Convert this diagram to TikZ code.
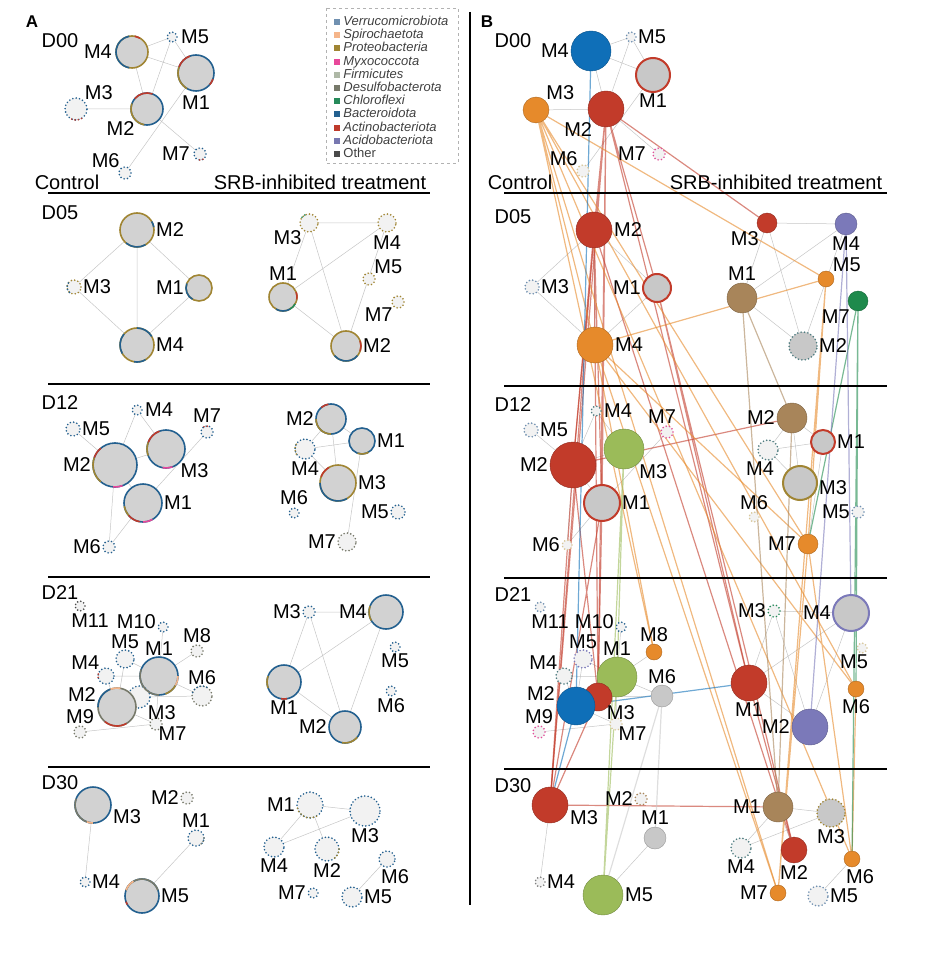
\documentclass[tikz,border=0pt]{standalone}
\usepackage{fontspec}
\setmainfont{Liberation Sans}
\usepackage{tikz}
\usetikzlibrary{positioning,backgrounds}

\definecolor{verr}{HTML}{7090B0}
\definecolor{spir}{HTML}{F5B58A}
\definecolor{prot}{HTML}{A08533}
\definecolor{myxo}{HTML}{E8489A}
\definecolor{firm}{HTML}{AEB8A6}
\definecolor{desu}{HTML}{77796A}
\definecolor{chlo}{HTML}{268A5A}
\definecolor{bact}{HTML}{23608F}
\definecolor{acti}{HTML}{BF3A2B}
\definecolor{acid}{HTML}{7777B0}
\definecolor{othr}{HTML}{4A4A4A}
\definecolor{agray}{HTML}{D2D2D2}
\definecolor{bred}{HTML}{C23B2A}
\definecolor{borg}{HTML}{E68A2B}
\definecolor{bblu}{HTML}{0F6FB8}
\definecolor{bgrn}{HTML}{9BBB59}
\definecolor{bbrn}{HTML}{A8855A}
\definecolor{bpur}{HTML}{7B79B9}
\definecolor{bdgr}{HTML}{1E8A4C}
\definecolor{bgry}{HTML}{C8C8C8}
\definecolor{bbei}{HTML}{D8C79A}
\definecolor{bpnk}{HTML}{E0509A}
\definecolor{bteal}{HTML}{4F7C80}

\tikzset{
  module/.style={circle, inner sep=0pt, outer sep=0pt, minimum size=#1},
  amod/.style={fill=agray, draw=#1, line width=1.6pt},
  dmod/.style={fill=gray!10, draw=#1, line width=1.8pt, dash pattern=on 0pt off 3.4pt, line cap=round},
  bmod/.style={fill=#1, draw=#1!75!black, line width=0.4pt},
  rmod/.style={fill=bgry, draw=#1, line width=2pt},
  ring/.style={draw=#1, line width=1.6pt},
  dring/.style={draw=#1, line width=1.8pt, dash pattern=on 0pt off 3.4pt, line cap=round},
  lbl/.style={font=\fontsize{20}{20}\selectfont, inner sep=1pt},
  netedge/.style={draw=gray!45, line width=0.5pt},
  tr/.style={draw=#1, line width=1.2pt, draw opacity=0.6},
  sep/.style={line width=1.2pt},
  legsq/.style={rectangle, inner sep=0pt, minimum size=6pt},
  legtxt/.style={font=\fontsize{13}{13}\selectfont\itshape, text=black!75, inner sep=0pt, text height=9.5pt, text depth=2.5pt},
}

% coloured piece of a module ring
\newcommand{\rseg}[5]{\draw[#5] ([shift={(#3:#2)}]#1.center) arc[start angle=#3, end angle=#4, radius=#2];}

\begin{document}
\begin{tikzpicture}[x=1pt, y=-1pt]
    \useasboundingbox (0,0) rectangle (924,957);

    % ---------------- panel A ----------------
    \node[font=\fontsize{17}{17}\selectfont\bfseries] (pa) at (32,22) {A};
    \node[lbl] (ad00) at (60,41) {D00};
    \node[lbl] (actrl) at (67,182) {Control};
    \node[lbl] (atrt) at (320,182) {SRB-inhibited treatment};
    \draw[sep] (48,193) -- (430,193);
    \draw[sep] (48,384) -- (430,384);
    \draw[sep] (48,577) -- (430,577);
    \draw[sep] (48,767) -- (430,767);
    \draw[sep] (470,12) -- (470,905);

    % D00
    \node[module=32pt, amod=prot] (ac00m4) at (132,52) {};
    \node[module=10pt, dmod=bact] (ac00m5) at (172,37) {};
    \node[module=36pt, amod=bact] (ac00m1) at (196,73) {};
    \node[module=22pt, dmod=bact] (ac00m3) at (76,109) {};
    \node[module=32pt, amod=bact] (ac00m2) at (147,109) {};
    \node[module=12pt, dmod=bact] (ac00m6) at (125,173) {};
    \node[module=12pt, dmod=bact] (ac00m7) at (200,154) {};
    \rseg{ac00m4}{16}{100}{260}{ring=bact}
    \rseg{ac00m4}{16}{280}{300}{ring=acti}
    \rseg{ac00m1}{18}{120}{200}{ring=prot}
    \rseg{ac00m1}{18}{200}{250}{ring=acti}
    \rseg{ac00m1}{18}{20}{40}{ring=acti}
    \rseg{ac00m3}{11}{60}{130}{dring=acti}
    \rseg{ac00m2}{16}{100}{200}{ring=prot}
    \rseg{ac00m2}{16}{220}{290}{ring=acti}
    \rseg{ac00m7}{6}{60}{120}{dring=acti}
    \node[lbl, left=3pt of ac00m4] (lac00m4) {M4};
    \node[lbl, right=3pt of ac00m5] (lac00m5) {M5};
    \node[lbl, below=4pt of ac00m1] (lac00m1) {M1};
    \node[lbl, above right=0pt of ac00m3] (lac00m3) {M3};
    \node[lbl, below left=0pt of ac00m2] (lac00m2) {M2};
    \node[lbl, above left=0pt of ac00m6] (lac00m6) {M6};
    \node[lbl, left=3pt of ac00m7] (lac00m7) {M7};

    % D05
    \node[lbl] (ad05) at (60,213) {D05};
    \node[module=34pt, amod=prot] (ac05m2) at (137,230) {};
    \node[module=14pt, dmod=prot] (ac05m3) at (74,287) {};
    \node[module=26pt, amod=prot] (ac05m1) at (199,288) {};
    \node[module=34pt, amod=prot] (ac05m4) at (137,345) {};
    \rseg{ac05m2}{17}{60}{130}{ring=bact}
    \rseg{ac05m2}{17}{330}{350}{ring=bact}
    \rseg{ac05m3}{7}{130}{230}{dring=bact}
    \rseg{ac05m1}{13}{120}{200}{ring=bact}
    \rseg{ac05m4}{17}{150}{220}{ring=bact}
    \rseg{ac05m4}{17}{270}{330}{ring=bact}
    \rseg{ac05m4}{17}{60}{100}{ring=bact}
    \node[lbl, right=1pt of ac05m2] (lac05m2) {M2};
    \node[lbl, right=1pt of ac05m3] (lac05m3) {M3};
    \node[lbl, left=1pt of ac05m1] (lac05m1) {M1};
    \node[lbl, right=1pt of ac05m4] (lac05m4) {M4};

    \node[module=18pt, dmod=prot] (at05m3) at (309,223) {};
    \node[module=18pt, dmod=prot] (at05m4) at (387,223) {};
    \node[module=12pt, dmod=prot] (at05m5) at (369,279) {};
    \node[module=12pt, dmod=prot] (at05m7) at (398,302) {};
    \node[module=28pt, amod=prot] (at05m1) at (283,297) {};
    \node[module=30pt, amod=prot] (at05m2) at (346,346) {};
    \rseg{at05m3}{9}{220}{260}{dring=chlo}
    \rseg{at05m1}{14}{60}{120}{ring=bact}
    \rseg{at05m1}{14}{30}{60}{ring=chlo}
    \rseg{at05m1}{14}{340}{370}{ring=acti}
    \rseg{at05m2}{15}{40}{140}{ring=bact}
    \rseg{at05m2}{15}{340}{380}{ring=acti}
    \node[lbl, below left=0pt of at05m3] (lat05m3) {M3};
    \node[lbl, below=3pt of at05m4] (lat05m4) {M4};
    \node[lbl, above right=0pt of at05m5] (lat05m5) {M5};
    \node[lbl, below left=0pt of at05m7] (lat05m7) {M7};
    \node[lbl, above=1pt of at05m1] (lat05m1) {M1};
    \node[lbl, right=1pt of at05m2] (lat05m2) {M2};

    % D12
    \node[lbl] (ad12) at (60,403) {D12};
    \node[module=14pt, dmod=bact] (ac12m5) at (73,429) {};
    \node[module=10pt, dmod=bact] (ac12m4) at (137,410) {};
    \node[module=12pt, dmod=bact] (ac12m7) at (207,432) {};
    \node[module=44pt, amod=bact] (ac12m2) at (115,465) {};
    \node[module=38pt, amod=bact] (ac12m3) at (166,449) {};
    \node[module=38pt, amod=bact] (ac12m1) at (143,503) {};
    \node[module=12pt, dmod=bact] (ac12m6) at (109,547) {};
    \rseg{ac12m7}{6}{240}{280}{dring=acti}
    \rseg{ac12m2}{22}{130}{200}{ring=prot}
    \rseg{ac12m2}{22}{200}{230}{ring=acti}
    \rseg{ac12m2}{22}{70}{95}{ring=myxo}
    \rseg{ac12m3}{19}{200}{250}{ring=acti}
    \rseg{ac12m3}{19}{160}{200}{ring=prot}
    \rseg{ac12m3}{19}{70}{100}{ring=myxo}
    \rseg{ac12m1}{19}{100}{140}{ring=acti}
    \rseg{ac12m1}{19}{60}{90}{ring=myxo}
    \rseg{ac12m1}{19}{140}{170}{ring=prot}
    \node[lbl, right=1pt of ac12m5] (lac12m5) {M5};
    \node[lbl, right=2pt of ac12m4] (lac12m4) {M4};
    \node[lbl, above=2pt of ac12m7] (lac12m7) {M7};
    \node[lbl, left=1pt of ac12m2] (lac12m2) {M2};
    \node[lbl, below right=0pt of ac12m3] (lac12m3) {M3};
    \node[lbl, right=1pt of ac12m1] (lac12m1) {M1};
    \node[lbl, left=1pt of ac12m6] (lac12m6) {M6};

    \node[module=30pt, amod=bact] (at12m2) at (331,419) {};
    \node[module=26pt, amod=bact] (at12m1) at (362,441) {};
    \node[module=20pt, dmod=bact] (at12m4) at (305,449) {};
    \node[module=36pt, amod=prot] (at12m3) at (338,483) {};
    \node[module=10pt, dmod=bact] (at12m6) at (294,513) {};
    \node[module=14pt, dmod=bact] (at12m5) at (398,512) {};
    \node[module=18pt, dmod=desu] (at12m7) at (347,542) {};
    \rseg{at12m2}{15}{90}{180}{ring=prot}
    \rseg{at12m2}{15}{230}{260}{ring=acti}
    \rseg{at12m1}{13}{60}{110}{ring=prot}
    \rseg{at12m4}{10}{150}{220}{dring=prot}
    \rseg{at12m3}{18}{60}{180}{ring=bact}
    \rseg{at12m3}{18}{200}{240}{ring=acti}
    \node[lbl, left=1pt of at12m2] (lat12m2) {M2};
    \node[lbl, right=1pt of at12m1] (lat12m1) {M1};
    \node[lbl, below=2pt of at12m4] (lat12m4) {M4};
    \node[lbl, right=1pt of at12m3] (lat12m3) {M3};
    \node[lbl, above=2pt of at12m6] (lat12m6) {M6};
    \node[lbl, left=1pt of at12m5] (lat12m5) {M5};
    \node[lbl, left=1pt of at12m7] (lat12m7) {M7};

    % D21
    \node[lbl] (ad21) at (60,593) {D21};
    \node[module=10pt, dmod=othr] (ac21m11) at (80,606) {};
    \node[module=10pt, dmod=bact] (ac21m10) at (163,627) {};
    \node[module=12pt, dmod=desu] (ac21m8) at (197,651) {};
    \node[module=18pt, dmod=bact] (ac21m5) at (125,659) {};
    \node[module=38pt, amod=bact] (ac21m1) at (159,676) {};
    \node[module=16pt, dmod=bact] (ac21m4) at (106,676) {};
    \node[module=20pt, dmod=desu] (ac21m6) at (202,696) {};
    \node[module=22pt, dmod=bact] (ac21m3) at (139,697) {};
    \node[module=38pt, amod=desu] (ac21m2) at (117,707) {};
    \node[module=12pt, dmod=desu] (ac21m9) at (80,732) {};
    \node[module=12pt, dmod=desu] (ac21m7) at (156,724) {};
    \rseg{ac21m1}{19}{90}{200}{ring=desu}
    \rseg{ac21m1}{19}{30}{70}{ring=prot}
    \rseg{ac21m1}{19}{0}{30}{ring=spir}
    \rseg{ac21m4}{8}{170}{210}{dring=acti}
    \rseg{ac21m6}{10}{200}{300}{dring=bact}
    \rseg{ac21m2}{19}{60}{130}{ring=acti}
    \rseg{ac21m2}{19}{180}{250}{ring=bact}
    \rseg{ac21m2}{19}{250}{280}{ring=spir}
    \node[lbl, below=2pt of ac21m11, xshift=10pt] (lac21m11) {M11};
    \node[lbl, left=1pt of ac21m10, yshift=5pt] (lac21m10) {M10};
    \node[lbl, above=1pt of ac21m8] (lac21m8) {M8};
    \node[lbl, above=0pt of ac21m5] (lac21m5) {M5};
    \node[lbl, above=0pt of ac21m1] (lac21m1) {M1};
    \node[lbl, above left=0pt of ac21m4] (lac21m4) {M4};
    \node[lbl, above=0pt of ac21m6] (lac21m6) {M6};
    \node[lbl, below right=0pt of ac21m3] (lac21m3) {M3};
    \node[lbl, left=1pt of ac21m2, yshift=12pt] (lac21m2) {M2};
    \node[lbl, above=1pt of ac21m9] (lac21m9) {M9};
    \node[lbl, below right=-4pt of ac21m7] (lac21m7) {M7};

    \node[module=12pt, dmod=bact] (at21m3) at (309,612) {};
    \node[module=34pt, amod=bact] (at21m4) at (386,612) {};
    \node[module=10pt, dmod=bact] (at21m5) at (395,647) {};
    \node[module=10pt, dmod=bact] (at21m6) at (391,691) {};
    \node[module=34pt, amod=bact] (at21m1) at (284,682) {};
    \node[module=32pt, amod=bact] (at21m2) at (345,727) {};
    \rseg{at21m4}{17}{150}{200}{ring=prot}
    \rseg{at21m1}{17}{160}{200}{ring=prot}
    \rseg{at21m1}{17}{80}{100}{ring=acti}
    \rseg{at21m2}{16}{40}{100}{ring=prot}
    \node[lbl, left=1pt of at21m3] (lat21m3) {M3};
    \node[lbl, left=1pt of at21m4] (lat21m4) {M4};
    \node[lbl, below=1pt of at21m5] (lat21m5) {M5};
    \node[lbl, below=1pt of at21m6] (lat21m6) {M6};
    \node[lbl, below=1pt of at21m1] (lat21m1) {M1};
    \node[lbl, left=1pt of at21m2] (lat21m2) {M2};

    % D30
    \node[lbl] (ad30) at (60,783) {D30};
    \node[module=36pt, amod=bact] (ac30m3) at (93,805) {};
    \node[module=12pt, dmod=desu] (ac30m2) at (187,798) {};
    \node[module=16pt, dmod=bact] (ac30m1) at (196,838) {};
    \node[module=10pt, dmod=bact] (ac30m4) at (85,882) {};
    \node[module=34pt, amod=bact] (ac30m5) at (142,896) {};
    \rseg{ac30m3}{18}{90}{200}{ring=desu}
    \rseg{ac30m3}{18}{90}{110}{ring=spir}
    \rseg{ac30m1}{8}{0}{60}{dring=desu}
    \rseg{ac30m5}{17}{200}{340}{ring=desu}
    \rseg{ac30m5}{17}{200}{240}{ring=spir}
    \rseg{ac30m5}{17}{150}{160}{ring=acti}
    \node[lbl, right=1pt of ac30m3, yshift=-12pt] (lac30m3) {M3};
    \node[lbl, left=1pt of ac30m2] (lac30m2) {M2};
    \node[lbl, above=1pt of ac30m1] (lac30m1) {M1};
    \node[lbl, right=1pt of ac30m4] (lac30m4) {M4};
    \node[lbl, right=1pt of ac30m5] (lac30m5) {M5};

    \node[module=26pt, dmod=bact] (at30m1) at (310,805) {};
    \node[module=30pt, dmod=bact] (at30m3) at (365,811) {};
    \node[module=20pt, dmod=bact] (at30m4) at (274,847) {};
    \node[module=24pt, dmod=bact] (at30m2) at (327,849) {};
    \node[module=16pt, dmod=bact] (at30m6) at (387,859) {};
    \node[module=10pt, dmod=bact] (at30m7) at (313,893) {};
    \node[module=20pt, dmod=bact] (at30m5) at (352,897) {};
    \rseg{at30m1}{13}{60}{180}{dring=prot}
    \rseg{at30m2}{12}{0}{60}{dring=prot}
    \node[lbl, left=1pt of at30m1] (lat30m1) {M1};
    \node[lbl, below=1pt of at30m3] (lat30m3) {M3};
    \node[lbl, below=1pt of at30m4] (lat30m4) {M4};
    \node[lbl, below=1pt of at30m2] (lat30m2) {M2};
    \node[lbl, below=1pt of at30m6, xshift=8pt] (lat30m6) {M6};
    \node[lbl, left=1pt of at30m7] (lat30m7) {M7};
    \node[lbl, right=1pt of at30m5] (lat30m5) {M5};

    % legend
    \draw[gray!60, dashed] (326,8) rectangle (458,163);
    \node[legsq, fill=verr] (sq1) at (337,22) {};
    \node[legtxt, right=3pt of sq1] (lg1) {Verrucomicrobiota};
    \node[legsq, fill=spir, below=6.8pt of sq1] (sq2) {};
    \node[legtxt, right=3pt of sq2] (lg2) {Spirochaetota};
    \node[legsq, fill=prot, below=6.8pt of sq2] (sq3) {};
    \node[legtxt, right=3pt of sq3] (lg3) {Proteobacteria};
    \node[legsq, fill=myxo, below=6.8pt of sq3] (sq4) {};
    \node[legtxt, right=3pt of sq4] (lg4) {Myxococcota};
    \node[legsq, fill=firm, below=6.8pt of sq4] (sq5) {};
    \node[legtxt, right=3pt of sq5] (lg5) {Firmicutes};
    \node[legsq, fill=desu, below=6.8pt of sq5] (sq6) {};
    \node[legtxt, right=3pt of sq6] (lg6) {Desulfobacterota};
    \node[legsq, fill=chlo, below=6.8pt of sq6] (sq7) {};
    \node[legtxt, right=3pt of sq7] (lg7) {Chloroflexi};
    \node[legsq, fill=bact, below=6.8pt of sq7] (sq8) {};
    \node[legtxt, right=3pt of sq8] (lg8) {Bacteroidota};
    \node[legsq, fill=acti, below=6.8pt of sq8] (sq9) {};
    \node[legtxt, right=3pt of sq9] (lg9) {Actinobacteriota};
    \node[legsq, fill=acid, below=6.8pt of sq9] (sq10) {};
    \node[legtxt, right=3pt of sq10] (lg10) {Acidobacteriota};
    \node[legsq, fill=othr, below=6.8pt of sq10] (sq11) {};
    \node[legtxt, right=3pt of sq11, font=\fontsize{13}{13}\selectfont\upshape] (lg11) {Other};

    % ---------------- panel B ----------------
    \node[font=\fontsize{17}{17}\selectfont\bfseries] (pb) at (487,22) {B};
    \node[lbl] (bd00) at (513,41) {D00};
    \node[lbl] (bctrl) at (520,182) {Control};
    \node[lbl] (btrt) at (776,182) {SRB-inhibited treatment};
    \draw[sep] (504,193) -- (887,193);
    \draw[sep] (504,386) -- (887,386);
    \draw[sep] (504,578) -- (887,578);
    \draw[sep] (504,769) -- (887,769);

    % D00
    \node[module=40pt, bmod=bblu] (bc00m4) at (591,51) {};
    \node[module=10pt, dmod=verr] (bc00m5) at (631,37) {};
    \node[module=34pt, rmod=bred] (bc00m1) at (653,75) {};
    \node[module=26pt, bmod=borg] (bc00m3) at (536,110) {};
    \node[module=36pt, bmod=bred] (bc00m2) at (606,109) {};
    \node[module=12pt, dmod=bbei] (bc00m6) at (583,171) {};
    \node[module=12pt, dmod=bpnk] (bc00m7) at (659,154) {};
    \node[lbl, left=1pt of bc00m4] (lbc00m4) {M4};
    \node[lbl, right=1pt of bc00m5] (lbc00m5) {M5};
    \node[lbl, below=1pt of bc00m1] (lbc00m1) {M1};
    \node[lbl, above right=0pt of bc00m3] (lbc00m3) {M3};
    \node[lbl, below left=0pt of bc00m2] (lbc00m2) {M2};
    \node[lbl, above left=0pt of bc00m6] (lbc00m6) {M6};
    \node[lbl, left=6pt of bc00m7] (lbc00m7) {M7};

    % D05
    \node[lbl] (bd05) at (513,217) {D05};
    \node[module=36pt, bmod=bred] (bc05m2) at (594,230) {};
    \node[module=14pt, dmod=verr] (bc05m3) at (532,287) {};
    \node[module=28pt, rmod=bred] (bc05m1) at (657,288) {};
    \node[module=36pt, bmod=borg] (bc05m4) at (595,345) {};
    \node[lbl, right=1pt of bc05m2] (lbc05m2) {M2};
    \node[lbl, right=1pt of bc05m3] (lbc05m3) {M3};
    \node[lbl, left=1pt of bc05m1] (lbc05m1) {M1};
    \node[lbl, right=1pt of bc05m4] (lbc05m4) {M4};

    \node[module=20pt, bmod=bred] (bt05m3) at (767,223) {};
    \node[module=22pt, bmod=bpur] (bt05m4) at (846,224) {};
    \node[module=16pt, bmod=borg] (bt05m5) at (826,279) {};
    \node[module=20pt, bmod=bdgr] (bt05m7) at (858,301) {};
    \node[module=30pt, bmod=bbrn] (bt05m1) at (742,298) {};
    \node[module=28pt, dmod=bteal, fill=bgry] (bt05m2) at (803,346) {};
    \node[lbl, below left=0pt of bt05m3] (lbt05m3) {M3};
    \node[lbl, below=1pt of bt05m4] (lbt05m4) {M4};
    \node[lbl, above right=0pt of bt05m5] (lbt05m5) {M5};
    \node[lbl, below left=0pt of bt05m7] (lbt05m7) {M7};
    \node[lbl, above=1pt of bt05m1] (lbt05m1) {M1};
    \node[lbl, right=1pt of bt05m2] (lbt05m2) {M2};

    % D12
    \node[lbl] (bd12) at (513,405) {D12};
    \node[module=14pt, dmod=verr] (bc12m5) at (531,430) {};
    \node[module=10pt, dmod=bteal] (bc12m4) at (596,411) {};
    \node[module=12pt, dmod=bpnk] (bc12m7) at (667,432) {};
    \node[module=46pt, bmod=bred] (bc12m2) at (573,465) {};
    \node[module=40pt, bmod=bgrn] (bc12m3) at (624,449) {};
    \node[module=36pt, rmod=bred] (bc12m1) at (602,503) {};
    \node[module=10pt, dmod=bbei] (bc12m6) at (567,545) {};
    \node[lbl, right=1pt of bc12m5] (lbc12m5) {M5};
    \node[lbl, right=2pt of bc12m4] (lbc12m4) {M4};
    \node[lbl, above=1pt of bc12m7, xshift=-5pt] (lbc12m7) {M7};
    \node[lbl, left=1pt of bc12m2] (lbc12m2) {M2};
    \node[lbl, below right=0pt of bc12m3] (lbc12m3) {M3};
    \node[lbl, right=1pt of bc12m1] (lbc12m1) {M1};
    \node[lbl, left=1pt of bc12m6] (lbc12m6) {M6};

    \node[module=30pt, bmod=bbrn] (bt12m2) at (792,418) {};
    \node[module=24pt, rmod=bred] (bt12m1) at (823,442) {};
    \node[module=20pt, dmod=bteal] (bt12m4) at (768,450) {};
    \node[module=34pt, rmod=prot] (bt12m3) at (800,483) {};
    \node[module=10pt, dmod=bbei] (bt12m6) at (754,517) {};
    \node[module=12pt, dmod=verr] (bt12m5) at (858,512) {};
    \node[module=20pt, bmod=borg] (bt12m7) at (808,544) {};
    \node[lbl, left=1pt of bt12m2] (lbt12m2) {M2};
    \node[lbl, right=1pt of bt12m1] (lbt12m1) {M1};
    \node[lbl, below=1pt of bt12m4, xshift=-8pt] (lbt12m4) {M4};
    \node[lbl, right=1pt of bt12m3, yshift=-5pt] (lbt12m3) {M3};
    \node[lbl, above=1pt of bt12m6] (lbt12m6) {M6};
    \node[lbl, left=1pt of bt12m5] (lbt12m5) {M5};
    \node[lbl, left=1pt of bt12m7] (lbt12m7) {M7};

    % D21
    \node[lbl] (bd21) at (513,595) {D21};
    \node[module=10pt, dmod=verr] (bc21m11) at (540,607) {};
    \node[module=10pt, dmod=bact] (bc21m10) at (621,627) {};
    \node[module=16pt, bmod=borg] (bc21m8) at (654,652) {};
    \node[module=18pt, dmod=bpur] (bc21m5) at (583,659) {};
    \node[module=40pt, bmod=bgrn] (bc21m1) at (617,677) {};
    \node[module=16pt, dmod=bteal] (bc21m4) at (564,676) {};
    \node[module=22pt, bmod=bgry] (bc21m6) at (662,696) {};
    \node[module=28pt, bmod=bred] (bc21m3) at (598,697) {};
    \node[module=38pt, bmod=bblu] (bc21m2) at (576,706) {};
    \node[module=12pt, dmod=bpnk] (bc21m9) at (539,732) {};
    \node[module=12pt, dmod=bbei] (bc21m7) at (616,724) {};
    \node[lbl, below=2pt of bc21m11, xshift=10pt] (lbc21m11) {M11};
    \node[lbl, left=1pt of bc21m10, yshift=5pt] (lbc21m10) {M10};
    \node[lbl, above=1pt of bc21m8] (lbc21m8) {M8};
    \node[lbl, above=0pt of bc21m5] (lbc21m5) {M5};
    \node[lbl, above=0pt of bc21m1] (lbc21m1) {M1};
    \node[lbl, above left=0pt of bc21m4] (lbc21m4) {M4};
    \node[lbl, above=0pt of bc21m6] (lbc21m6) {M6};
    \node[lbl, below right=-3pt of bc21m3] (lbc21m3) {M3};
    \node[lbl, left=1pt of bc21m2, yshift=12pt] (lbc21m2) {M2};
    \node[lbl, above=1pt of bc21m9] (lbc21m9) {M9};
    \node[lbl, below right=-4pt of bc21m7] (lbc21m7) {M7};

    \node[module=12pt, dmod=chlo] (bt21m3) at (774,611) {};
    \node[module=36pt, rmod=bpur] (bt21m4) at (851,613) {};
    \node[module=10pt, dmod=bbei] (bt21m5) at (862,648) {};
    \node[module=16pt, bmod=borg] (bt21m6) at (856,689) {};
    \node[module=36pt, bmod=bred] (bt21m1) at (749,683) {};
    \node[module=36pt, bmod=bpur] (bt21m2) at (810,727) {};
    \node[lbl, left=1pt of bt21m3] (lbt21m3) {M3};
    \node[lbl, left=1pt of bt21m4] (lbt21m4) {M4};
    \node[lbl, below=1pt of bt21m5, xshift=-8pt] (lbt21m5) {M5};
    \node[lbl, below=1pt of bt21m6] (lbt21m6) {M6};
    \node[lbl, below=1pt of bt21m1] (lbt21m1) {M1};
    \node[lbl, left=1pt of bt21m2] (lbt21m2) {M2};

    % D30
    \node[lbl] (bd30) at (513,786) {D30};
    \node[module=36pt, bmod=bred] (bc30m3) at (550,805) {};
    \node[module=12pt, dmod=bbrn] (bc30m2) at (641,799) {};
    \node[module=22pt, bmod=bgry] (bc30m1) at (655,838) {};
    \node[module=10pt, dmod=gray] (bc30m4) at (540,882) {};
    \node[module=40pt, bmod=bgrn] (bc30m5) at (603,895) {};
    \node[lbl, right=1pt of bc30m3, yshift=-13pt] (lbc30m3) {M3};
    \node[lbl, left=1pt of bc30m2] (lbc30m2) {M2};
    \node[lbl, above=1pt of bc30m1] (lbc30m1) {M1};
    \node[lbl, right=1pt of bc30m4] (lbc30m4) {M4};
    \node[lbl, right=1pt of bc30m5] (lbc30m5) {M5};

    \node[module=30pt, bmod=bbrn] (bt30m1) at (778,807) {};
    \node[module=28pt, dmod=prot, fill=bgry] (bt30m3) at (831,813) {};
    \node[module=20pt, dmod=bteal] (bt30m4) at (741,848) {};
    \node[module=26pt, bmod=bred] (bt30m2) at (794,850) {};
    \node[module=16pt, bmod=borg] (bt30m6) at (852,859) {};
    \node[module=16pt, bmod=borg] (bt30m7) at (778,893) {};
    \node[module=20pt, dmod=verr] (bt30m5) at (818,896) {};
    \node[lbl, left=1pt of bt30m1] (lbt30m1) {M1};
    \node[lbl, below=1pt of bt30m3] (lbt30m3) {M3};
    \node[lbl, below=1pt of bt30m4] (lbt30m4) {M4};
    \node[lbl, below=1pt of bt30m2] (lbt30m2) {M2};
    \node[lbl, below=1pt of bt30m6, xshift=8pt] (lbt30m6) {M6};
    \node[lbl, left=1pt of bt30m7] (lbt30m7) {M7};
    \node[lbl, right=1pt of bt30m5] (lbt30m5) {M5};

    % ---------------- connectors ----------------
    \begin{scope}[on background layer]
    % networks A
    \draw[netedge] (ac00m4) -- (ac00m5) (ac00m4) -- (ac00m1) (ac00m4) -- (ac00m2) (ac00m5) -- (ac00m2)
        (ac00m5) -- (ac00m1) (ac00m3) -- (ac00m2) (ac00m2) -- (ac00m7) (ac00m6) -- (ac00m1);
    \draw[netedge] (ac05m2) -- (ac05m3) (ac05m3) -- (ac05m4) (ac05m2) -- (ac05m4) (ac05m2) -- (ac05m1) (ac05m4) -- (ac05m1);
    \draw[netedge] (at05m3) -- (at05m4) (at05m3) -- (at05m1) (at05m3) -- (at05m2) (at05m1) -- (at05m4)
        (at05m1) -- (at05m2) (at05m4) -- (at05m2);
    \draw[netedge] (ac12m5) -- (ac12m2) (ac12m4) -- (ac12m2) (ac12m4) -- (ac12m3) (ac12m7) -- (ac12m1)
        (ac12m2) -- (ac12m3) (ac12m2) -- (ac12m6) (ac12m1) -- (ac12m6) (ac12m2) -- (ac12m1);
    \draw[netedge] (at12m2) -- (at12m4) (at12m2) -- (at12m1) (at12m2) -- (at12m3) (at12m4) -- (at12m1)
        (at12m4) -- (at12m3) (at12m1) -- (at12m7);
    \draw[netedge] (ac21m10) -- (ac21m1) (ac21m8) -- (ac21m1) (ac21m5) -- (ac21m2) (ac21m5) -- (ac21m1)
        (ac21m4) -- (ac21m1) (ac21m4) -- (ac21m2) (ac21m2) -- (ac21m3) (ac21m1) -- (ac21m6)
        (ac21m3) -- (ac21m6) (ac21m1) -- (ac21m7) (ac21m9) -- (ac21m7) (ac21m2) -- (ac21m7);
    \draw[netedge] (at21m3) -- (at21m4) (at21m3) -- (at21m1) (at21m3) -- (at21m2) (at21m1) -- (at21m4)
        (at21m1) -- (at21m2) (at21m4) -- (at21m2);
    \draw[netedge] (ac30m3) -- (ac30m4) (ac30m1) -- (ac30m5);
    \draw[netedge] (at30m1) -- (at30m3) (at30m1) -- (at30m4) (at30m1) -- (at30m2) (at30m4) -- (at30m3) (at30m6) -- (at30m5);

    % networks B
    \draw[netedge] (bc00m4) -- (bc00m5) (bc00m4) -- (bc00m1) (bc00m4) -- (bc00m2) (bc00m5) -- (bc00m2)
        (bc00m5) -- (bc00m1) (bc00m3) -- (bc00m2) (bc00m2) -- (bc00m7) (bc00m6) -- (bc00m1);
    \draw[netedge] (bc05m2) -- (bc05m3) (bc05m3) -- (bc05m4) (bc05m2) -- (bc05m4) (bc05m2) -- (bc05m1) (bc05m4) -- (bc05m1);
    \draw[netedge] (bt05m3) -- (bt05m4) (bt05m3) -- (bt05m1) (bt05m3) -- (bt05m2) (bt05m1) -- (bt05m4)
        (bt05m1) -- (bt05m2) (bt05m4) -- (bt05m2);
    \draw[netedge] (bc12m5) -- (bc12m2) (bc12m4) -- (bc12m2) (bc12m4) -- (bc12m3) (bc12m7) -- (bc12m1)
        (bc12m2) -- (bc12m3) (bc12m2) -- (bc12m6) (bc12m1) -- (bc12m6) (bc12m2) -- (bc12m1);
    \draw[netedge] (bt12m2) -- (bt12m4) (bt12m2) -- (bt12m1) (bt12m2) -- (bt12m3) (bt12m4) -- (bt12m1)
        (bt12m4) -- (bt12m3) (bt12m1) -- (bt12m7);
    \draw[netedge] (bc21m10) -- (bc21m1) (bc21m8) -- (bc21m1) (bc21m5) -- (bc21m2) (bc21m5) -- (bc21m1)
        (bc21m4) -- (bc21m1) (bc21m4) -- (bc21m2) (bc21m2) -- (bc21m3) (bc21m1) -- (bc21m6)
        (bc21m3) -- (bc21m6) (bc21m1) -- (bc21m7) (bc21m9) -- (bc21m7) (bc21m2) -- (bc21m7);
    \draw[netedge] (bt21m3) -- (bt21m4) (bt21m3) -- (bt21m1) (bt21m3) -- (bt21m2) (bt21m1) -- (bt21m4)
        (bt21m1) -- (bt21m2) (bt21m4) -- (bt21m2);
    \draw[netedge] (bc30m3) -- (bc30m4) (bc30m1) -- (bc30m5);
    \draw[netedge] (bt30m1) -- (bt30m3) (bt30m1) -- (bt30m4) (bt30m1) -- (bt30m2) (bt30m4) -- (bt30m3) (bt30m6) -- (bt30m5);

    % module transitions B
    \draw[tr=bred] (bc00m2) -- (bt05m3) (bc00m2) -- (bc05m2) (bc00m2) -- (bc05m1) (bc00m2) -- (bc12m2)
        (bc00m2) -- (bc12m1) (bc00m2) -- (bc21m3) (bc00m2) -- (bc30m3) (bc00m2) -- (bt21m1);
    \draw[tr=bred] (bc05m2) -- (bc12m2) (bc05m2) -- (bc12m1) (bc05m2) -- (bc21m3) (bc05m2) -- (bc30m3)
        (bc05m2) -- (bt30m2) (bc05m1) -- (bt21m1) (bc05m1) -- (bt30m2);
    \draw[tr=bred] (bc12m2) -- (bt12m2) (bc12m2) -- (bc21m3) (bc12m2) -- (bc30m3) (bc12m1) -- (bc21m3)
        (bc12m1) -- (bc30m3) (bc21m3) -- (bc30m3) (bt21m1) -- (bt30m2) (bc30m3) -- (bt30m1);
    \draw[tr=borg] (bc00m3) -- (bc05m4) (bc00m3) -- (bt05m5) (bc00m3) -- (bc21m8) (bc00m3) -- (bt12m7)
        (bc00m3) -- (bt21m6) (bc00m3) -- (bt30m7) (bc00m3) -- (bt30m6);
    \draw[tr=borg] (bc05m4) -- (bt05m5) (bc05m4) -- (bt12m7) (bc05m4) -- (bt21m6) (bc05m4) -- (bt30m7)
        (bc05m4) -- (bc21m8) (bt05m5) -- (bt12m7) (bt05m5) -- (bt30m7) (bt12m7) -- (bt30m7)
        (bt12m7) -- (bt30m6) (bt21m6) -- (bt30m6);
    \draw[tr=bblu] (bc00m4) -- (bc21m2) (bc21m2) -- (bt21m1) (bc21m2) -- (bc30m3);
    \draw[tr=bgrn] (bc12m3) -- (bc21m1) (bc12m3) -- (bc30m5) (bc21m1) -- (bc30m5);
    \draw[tr=bdgr] (bt05m7) -- (bt12m7) (bt05m7) -- (bt21m6) (bt05m7) -- (bt30m6);
    \draw[tr=bpur] (bt05m4) -- (bt21m2) (bt05m4) -- (bt21m4);
    \draw[tr=bbrn] (bt05m1) -- (bt12m2) (bt05m1) -- (bt30m1) (bt12m2) -- (bt30m1);
    \draw[tr=bgry] (bc21m6) -- (bc30m5) (bc21m6) -- (bc30m1);
    \end{scope}
\end{tikzpicture}
\end{document}
